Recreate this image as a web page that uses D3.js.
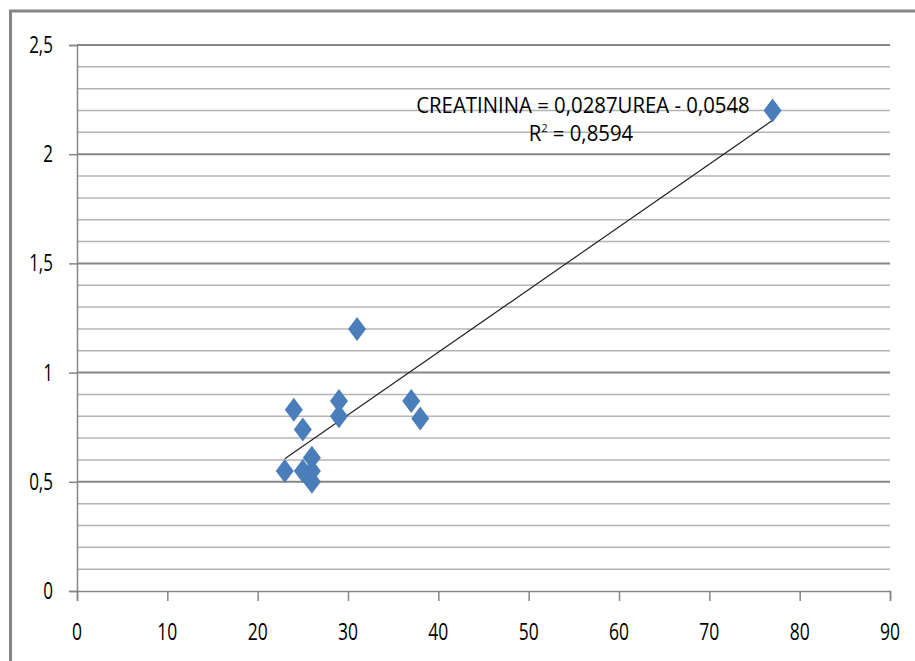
<!DOCTYPE html>
<meta charset="utf-8">
<style>
body { margin: 0; background: #fff; }
svg { display: block; }
text { font-family: "Open Sans", "Liberation Sans", sans-serif; fill: #000; }
</style>
<svg width="915" height="661"></svg>
<script src="https://d3js.org/d3.v7.min.js"></script>
<script>
// UREA (x) vs CREATININA (y)
var urea       = [23, 24, 25, 25, 26, 26, 26, 29, 29, 31, 37, 38, 77];
var creatinina = [0.55, 0.83, 0.74, 0.55, 0.61, 0.5, 0.55, 0.87, 0.8, 1.2, 0.87, 0.79, 2.2];
var xTicks = [0, 10, 20, 30, 40, 50, 60, 70, 80, 90];
var yTicks = [0, 0.5, 1, 1.5, 2, 2.5];
var slope = 0.0287, intercept = 0.0548, r2 = 0.8594;

var svg = d3.select("svg");
var grey = "#868686";

var x = d3.scaleLinear().domain([0, 90]).range([77, 890]);
var y = d3.scaleLinear().domain([0, 2.5]).range([591, 45]);
var fmt = function(v) { return String(v).replace(".", ","); };

// outer frame (only left and top are inside the picture)
svg.append("path")
    .attr("d", "M10.5,661 L10.5,11 L915,11")
    .attr("fill", "none").attr("stroke", grey).attr("stroke-width", 3);

// minor gridlines every 0,1
var minor = d3.range(1, 25).map(function(i) { return i / 10; })
    .filter(function(v) { return Math.abs(v * 2 - Math.round(v * 2)) > 1e-6; });
svg.append("g").selectAll("line").data(minor).enter().append("line")
    .attr("x1", x(0)).attr("x2", x(90))
    .attr("y1", function(d) { return y(d); }).attr("y2", function(d) { return y(d); })
    .attr("stroke", "#b4b4b4").attr("stroke-width", 1.5);

// major gridlines
svg.append("g").selectAll("line").data(yTicks.slice(1)).enter().append("line")
    .attr("x1", x(0)).attr("x2", x(90))
    .attr("y1", function(d) { return y(d); }).attr("y2", function(d) { return y(d); })
    .attr("stroke", grey).attr("stroke-width", 2);

// axes
svg.append("g").attr("transform", "translate(" + x(0) + ",0)")
    .call(d3.axisLeft(y).tickValues(yTicks).tickSize(8).tickFormat(""));
svg.append("g").attr("transform", "translate(0," + y(0) + ")")
    .call(d3.axisBottom(x).tickValues(xTicks).tickSize(10).tickFormat(""));
svg.selectAll(".domain").attr("stroke", grey).attr("stroke-width", 1.5);
svg.selectAll(".tick line").attr("stroke", grey).attr("stroke-width", 1.5);

// condensed looking labels
function label(px, py, str, anchor, size, sx) {
    var g = svg.append("g").attr("transform", "translate(" + px + "," + py + ") scale(" + sx + ",1)");
    var t = g.append("text").attr("text-anchor", anchor).attr("font-size", size);
    return t.text(str);
}
yTicks.forEach(function(v) { label(53, y(v) + 8, fmt(v), "end", 23, 0.74); });
xTicks.forEach(function(v) { label(x(v), 640, String(v), "middle", 23, 0.76); });

// trend line
var xr = d3.extent(urea);
svg.append("line")
    .attr("x1", x(xr[0])).attr("y1", y(slope * xr[0] - intercept))
    .attr("x2", x(xr[1])).attr("y2", y(slope * xr[1] - intercept))
    .attr("stroke", "#222").attr("stroke-width", 1.2);

// points
var pts = urea.map(function(u, i) { return [u, creatinina[i]]; });
svg.append("g").selectAll("path").data(pts).enter().append("path")
    .attr("d", "M0,-12 L9,0 L0,12 L-9,0 Z")
    .attr("transform", function(d) { return "translate(" + x(d[0]) + "," + y(d[1]) + ")"; })
    .attr("fill", "#4a7ebb");

// equation
label(583, 113, "CREATININA = " + fmt(slope) + "UREA - " + fmt(intercept), "middle", 21, 0.97);
var rt = label(581, 141, "", "middle", 21, 0.97);
rt.append("tspan").text("R");
rt.append("tspan").attr("font-size", 11).attr("dy", -9).text("2");
rt.append("tspan").attr("dy", 9).text(" = " + fmt(r2));
</script>
